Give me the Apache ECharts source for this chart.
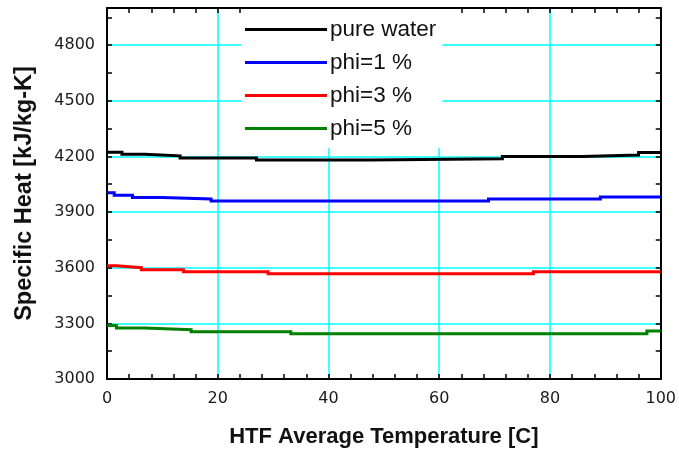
<!DOCTYPE html>
<html>
<head>
<meta charset="utf-8">
<script src="https://cdn.jsdelivr.net/npm/echarts@6/dist/echarts.min.js"></script>
<style>
html,body{margin:0;padding:0;background:#fff;}
#chart{width:679px;height:455px;}
</style>
</head>
<body>
<div id="chart"></div>
<script>
// Data (step-wise values: level holds from T[i] to T[i+1])
const seriesNames = ['pure water', 'phi=1 %', 'phi=3 %', 'phi=5 %'];
const waterT  = [0, 2.7, 6.8, 13.2, 27, 47.3, 71.4, 85.9, 96, 100];
const waterCp = [4223, 4211, 4203, 4192, 4180, 4187, 4200, 4207, 4221, 4221];
const phi1T   = [0, 1.3, 4.6, 10, 18.8, 68.9, 89.1, 100];
const phi1Cp  = [4004, 3991, 3979, 3970, 3959, 3970, 3981, 3981];
const phi3T   = [0, 1.7, 6.2, 13.8, 29.1, 77, 100];
const phi3Cp  = [3610, 3600, 3589, 3578, 3567, 3578, 3578];
const phi5T   = [0, 1.7, 6.8, 15.2, 33.2, 97.5, 100];
const phi5Cp  = [3289, 3275, 3266, 3255, 3244, 3259, 3259];
const xTicks = [0, 20, 40, 60, 80, 100];
const yTicks = [3000, 3300, 3600, 3900, 4200, 4500, 4800];

const colors = ['#000000', '#0000ff', '#ff0000', '#008000'];
// expand level data into explicit step vertices
const steps = (t, v) => {
  const out = [];
  for (let i = 0; i < t.length; i++) {
    out.push([t[i], v[i]]);
    if (i < t.length - 1) out.push([t[i + 1], v[i]]);
  }
  return out;
};
const allData = [steps(waterT, waterCp), steps(phi1T, phi1Cp), steps(phi3T, phi3Cp), steps(phi5T, phi5Cp)];

const chart = echarts.init(document.getElementById('chart'), null, {renderer: 'canvas'});
const axisLineStyle = {show: true, onZero: false, lineStyle: {color: '#000', width: 2}};
const axisTickStyle = {show: true, inside: true, length: 5, lineStyle: {color: '#000', width: 1.5}};
const labelFont = {fontFamily: 'DejaVu Sans', fontSize: 16, color: '#1a1a1a'};

chart.setOption({
  animation: false,
  backgroundColor: '#fff',
  grid: {left: 107, right: 12, top: 8, bottom: 76, containLabel: false},
  legend: {
    data: seriesNames,
    orient: 'vertical',
    left: 241, top: 9,
    padding: [9, 6, 8, 4],
    backgroundColor: '#fff',
    itemWidth: 82, itemHeight: 3, itemGap: 10,
    icon: 'rect',
    textStyle: {fontFamily: 'Liberation Sans, Arial', fontSize: 22.5, lineHeight: 22, color: '#111', padding: [0, 0, 0, -2]},
    z: 10
  },
  xAxis: [
    {
      type: 'value', position: 'bottom', min: 0, max: 100, interval: 20,
      axisLine: axisLineStyle, axisTick: axisTickStyle,
      axisLabel: Object.assign({margin: 12, formatter: v => xTicks.includes(v) ? String(v) : ''}, labelFont),
      minorTick: {show: true, splitNumber: 5, length: 5, lineStyle: {color: '#000', width: 1.5}},
      splitLine: {show: true, lineStyle: {color: '#00ffff', width: 1.5}},
      name: 'HTF Average Temperature [C]', nameLocation: 'middle', nameGap: 47,
      nameTextStyle: {fontFamily: 'Liberation Sans, Arial', fontWeight: 'bold', fontSize: 22, color: '#111'}
    },
    {
      type: 'value', position: 'top', min: 0, max: 100, interval: 20,
      axisLine: axisLineStyle, axisTick: axisTickStyle,
      axisLabel: {show: false}, splitLine: {show: false},
      minorTick: {show: true, splitNumber: 5, length: 5, lineStyle: {color: '#000', width: 1.5}}
    }
  ],
  yAxis: [
    {
      type: 'value', position: 'left', min: 3000, max: 5000, interval: 300,
      axisLine: axisLineStyle, axisTick: axisTickStyle,
      axisLabel: Object.assign({margin: 12, showMaxLabel: false, formatter: v => yTicks.includes(v) ? String(v) : ''}, labelFont),
      minorTick: {show: true, splitNumber: 2, length: 5, lineStyle: {color: '#000', width: 1.5}},
      splitLine: {show: true, lineStyle: {color: '#00ffff', width: 1.5}},
      name: 'Specific Heat [kJ/kg-K]', nameLocation: 'middle', nameGap: 70,
      nameTextStyle: {fontFamily: 'Liberation Sans, Arial', fontWeight: 'bold', fontSize: 23.5, color: '#111'}
    },
    {
      type: 'value', position: 'right', min: 3000, max: 5000, interval: 300,
      axisLine: axisLineStyle, axisTick: axisTickStyle,
      axisLabel: {show: false}, splitLine: {show: false},
      minorTick: {show: true, splitNumber: 2, length: 5, lineStyle: {color: '#000', width: 1.5}}
    }
  ],
  series: seriesNames.map((n, i) => ({
    name: n, type: 'line', data: allData[i],
    xAxisIndex: 0, yAxisIndex: 0,
    showSymbol: false, symbol: 'none', sampling: null,
    lineStyle: {color: colors[i], width: 3, join: 'miter'},
    itemStyle: {color: colors[i]},
    z: 3
  }))
});
</script>
</body>
</html>
